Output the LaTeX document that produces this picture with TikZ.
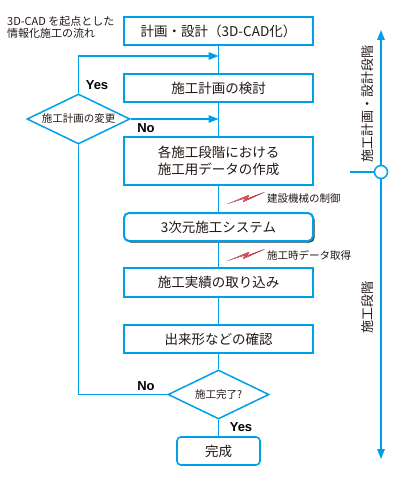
\documentclass[tikz,border=0pt]{standalone}
\usepackage{fontspec}
\setmainfont{Noto Sans CJK JP}
\newfontfamily\yesnofont{Liberation Sans}
\usetikzlibrary{arrows.meta,shapes.geometric,shadows}
\definecolor{flowblue}{RGB}{0,160,233}
\definecolor{boltred}{RGB}{230,0,18}
\definecolor{inkgray}{RGB}{35,24,21}
\newcommand{\linkbolt}[3]{
  \begin{scope}[shift={#2}]
    \fill[bolt] (0,0) -- (22,-9) -- (20.5,-5.5) -- (38,-12) -- (16,-2) -- (17.5,-5.5) -- cycle;
    \node[note,anchor=west] (#1) at (40,-5.5) {#3};
  \end{scope}
}

\begin{document}
\begin{tikzpicture}[
  x=1pt,y=-1pt,
  >={Triangle[length=10pt,width=7.5pt]},
  flowline/.style={flowblue,line width=1.5pt},
  flowbox/.style={draw=flowblue,line width=1.6pt,fill=white,text=inkgray,
    minimum width=189,minimum height=28,inner sep=1pt,align=center,
    font=\fontsize{13.5}{17}\selectfont},
  sysbox/.style={flowbox,line width=2pt,rounded corners=5pt,
    drop shadow={shadow xshift=1.6pt,shadow yshift=-1.6pt,fill=black!80,opacity=1}},
  endbox/.style={flowbox,rounded corners=4pt,minimum width=83},
  flowdecision/.style={diamond,draw=flowblue,line width=1.5pt,fill=white,text=inkgray,
    aspect=2,inner sep=0pt,font=\fontsize{10.5}{12}\selectfont},
  yesno/.style={text=black,inner sep=0pt,font=\yesnofont\bfseries\fontsize{13}{15}\selectfont},
  note/.style={text=inkgray,inner sep=0pt,font=\fontsize{10.5}{12}\selectfont},
  stage/.style={text=inkgray,rotate=90,inner sep=0pt,font=\fontsize{13}{15}\selectfont},
  bolt/.style={left color=boltred!45,right color=boltred},
  ]
  \useasboundingbox (0,0) rectangle (410,495);

  \node[note,anchor=north west,align=left,font=\fontsize{11}{12.5}\selectfont] (title) at (7,16)
    {3D-CAD を起点とした\\情報化施工の流れ};

  \node[flowbox] (cad) at (218.5,31) {計画・設計（3D-CAD化）};
  \node[flowbox] (review) at (218.5,88) {施工計画の検討};
  \node[flowbox,minimum height=48] (data) at (218.5,161) {各施工段階における\\施工用データの作成};
  \node[sysbox] (system) at (218.5,227) {3次元施工システム};
  \node[flowbox,minimum height=29] (import) at (218.5,282.5) {施工実績の取り込み};
  \node[flowbox] (check) at (218.5,339) {出来形などの確認};
  \node[flowdecision,minimum width=103,minimum height=50] (change) at (78.5,119) {施工計画の変更};
  \node[flowdecision,minimum width=101,minimum height=49] (finish) at (218.5,394.5) {施工完了?};
  \node[endbox] (done) at (218.5,451) {完成};

  \coordinate (join-top) at (218.5,56);
  \coordinate (join-mid) at (218.5,119);

  \draw[flowline] (cad) -- (review);
  \draw[flowline] (review) -- (data);
  \draw[flowline] (data) -- (system);
  \draw[flowline] (system) -- (import);
  \draw[flowline] (import) -- (check);
  \draw[flowline] (check) -- (finish);
  \draw[flowline] (finish) -- (done);
  \draw[flowline] (finish.west) -| (change.south);
  \draw[flowline,->] (change.north) |- (join-top);
  \draw[flowline,->] (change.east) -- (join-mid);

  \node[yesno] (yes-change) at (97,85) {Yes};
  \node[yesno] (no-change) at (146,128) {No};
  \node[yesno] (no-finish) at (146,386) {No};
  \node[yesno] (yes-finish) at (241,427) {Yes};

  \linkbolt{control}{(227,204)}{建設機械の制御}
  \linkbolt{capture}{(227,261)}{施工時データ取得}

  \coordinate (axis-top) at (381,30);
  \coordinate (axis-bottom) at (381,459);
  \coordinate (axis-tick) at (350,172);
  \draw[flowline,<->] (axis-bottom) -- (axis-top);
  \node[circle,draw=flowblue,line width=1.5pt,fill=white,minimum size=13,inner sep=0pt] (phase-split) at (381,172) {};
  \draw[flowline] (axis-tick) -- (phase-split.west);
  \node[stage] (design-phase) at (368,104) {施工計画・設計段階};
  \node[stage] (build-phase) at (368,307.5) {施工段階};
\end{tikzpicture}
\end{document}
